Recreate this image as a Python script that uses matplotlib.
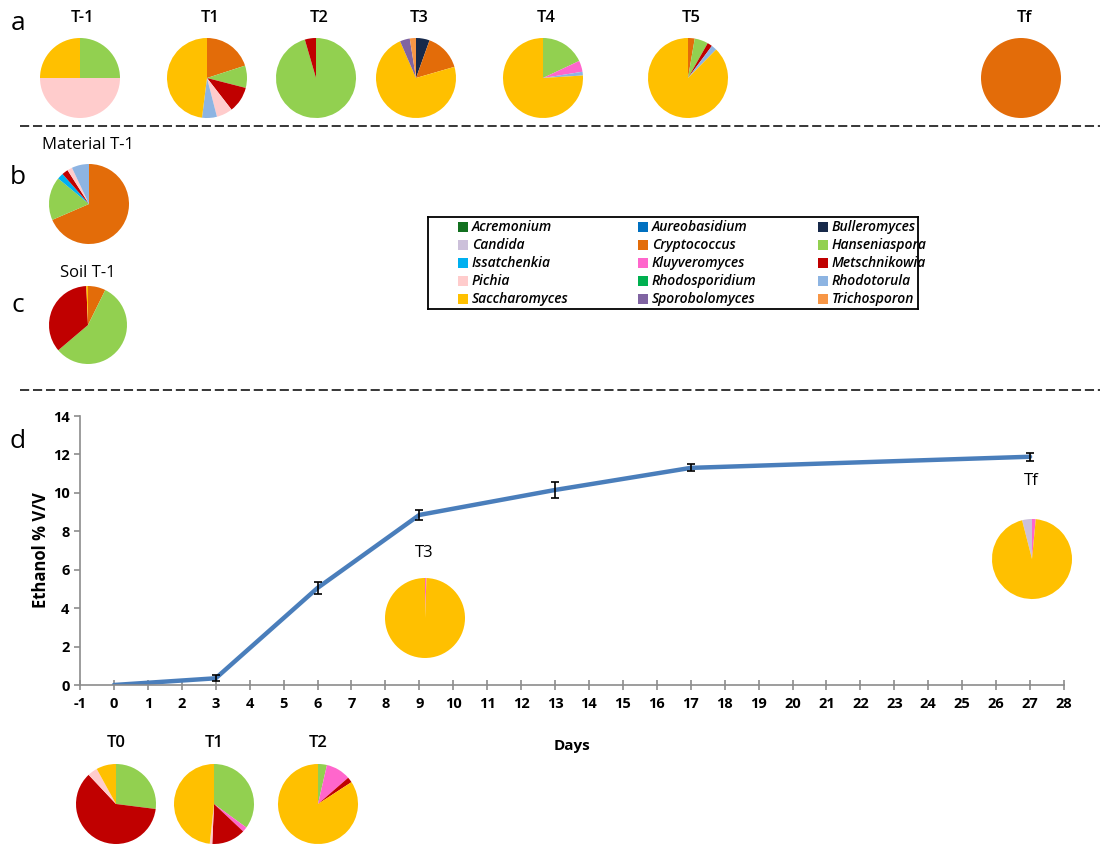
import matplotlib
matplotlib.use("Agg")
import matplotlib.pyplot as plt
from matplotlib.lines import Line2D

plt.rcParams['font.family'] = ['Open Sans', 'DejaVu Sans']
plt.rcParams['axes.unicode_minus'] = False

# ---------- data ----------
genera = ["Acremonium", "Aureobasidium", "Bulleromyces", "Candida", "Cryptococcus",
          "Hanseniaspora", "Issatchenkia", "Kluyveromyces", "Metschnikowia", "Pichia",
          "Rhodosporidium", "Rhodotorula", "Saccharomyces", "Sporobolomyces", "Trichosporon"]
genus_colors = ["#12701f", "#0070c0", "#17294a", "#ccc0da", "#e36c09",
                "#92d050", "#00b0f0", "#ff66cc", "#c00000", "#ffcccc",
                "#00b050", "#8db4e2", "#ffc000", "#8064a2", "#f79646"]

# panel a (percent of isolates)
a_tm1 = {"Hanseniaspora": 25, "Pichia": 50, "Saccharomyces": 25}
a_t1 = {"Cryptococcus": 20, "Hanseniaspora": 9, "Metschnikowia": 10.5, "Pichia": 6.5,
        "Rhodotorula": 6, "Saccharomyces": 48}
a_t2 = {"Hanseniaspora": 95.5, "Metschnikowia": 4.5}
a_t3 = {"Bulleromyces": 5.5, "Cryptococcus": 15, "Saccharomyces": 73, "Sporobolomyces": 4,
        "Trichosporon": 2.5}
a_t4 = {"Hanseniaspora": 18, "Kluyveromyces": 4.5, "Rhodotorula": 1.5, "Saccharomyces": 76}
a_t5 = {"Cryptococcus": 2.7, "Hanseniaspora": 5.5, "Metschnikowia": 2, "Rhodotorula": 2.2,
        "Saccharomyces": 87.6}
a_tf = {"Cryptococcus": 100}
a_labels = ["T-1", "T1", "T2", "T3", "T4", "T5", "Tf"]

# panels b and c
material_tm1 = {"Cryptococcus": 68.5, "Hanseniaspora": 17.5, "Issatchenkia": 2.5,
                "Metschnikowia": 2.5, "Pichia": 2, "Rhodotorula": 7}
soil_tm1 = {"Cryptococcus": 7.3, "Hanseniaspora": 56.5, "Metschnikowia": 35.5, "Saccharomyces": 0.7}

# panel d
days = [0, 3, 6, 9, 13, 17, 27]
ethanol = [0, 0.35, 5.05, 8.85, 10.15, 11.3, 11.88]
ethanol_err = [0, 0.15, 0.3, 0.28, 0.4, 0.18, 0.2]
d_t3 = {"Kluyveromyces": 0.6, "Saccharomyces": 99.4}
d_tf = {"Candida": 4, "Kluyveromyces": 1.5, "Saccharomyces": 94.5}
d_t0 = {"Hanseniaspora": 27, "Metschnikowia": 61, "Pichia": 4, "Saccharomyces": 8}
d_t1 = {"Hanseniaspora": 35, "Kluyveromyces": 2, "Metschnikowia": 13.7, "Pichia": 1,
        "Saccharomyces": 48.3}
d_t2 = {"Hanseniaspora": 3.6, "Kluyveromyces": 10, "Metschnikowia": 2.2, "Saccharomyces": 84.2}

W, H = 1110, 846
fig = plt.figure(figsize=(W / 100, H / 100), dpi=100)


def px_axes(x0, y0, w, h):
    # axes from pixel box (top-left origin)
    return fig.add_axes([x0 / W, 1 - (y0 + h) / H, w / W, h / H])


def draw_pie(comp, cx, cy, r=40, start=90):
    vals = [comp.get(g, 0) for g in genera]
    ax = px_axes(cx - r, cy - r, 2 * r, 2 * r)
    ax.pie(vals, colors=genus_colors, startangle=start, counterclock=False,
           wedgeprops=dict(linewidth=0))
    ax.set_xlim(-1, 1)
    ax.set_ylim(-1, 1)
    return ax


def ftext(x, y, s, **kw):
    fig.text(x / W, 1 - y / H, s, ha='center', va='center', **kw)


# ---------- panel a ----------
a_pies = [a_tm1, a_t1, a_t2, a_t3, a_t4, a_t5, a_tf]
a_x = [80, 207, 316, 416, 543, 688, 1021]
for comp, lab, x in zip(a_pies, a_labels, a_x):
    draw_pie(comp, x, 78)
    ftext(x + 3, 18, lab, fontsize=12, fontweight='semibold')

# ---------- panels b, c ----------
draw_pie(material_tm1, 89, 204)
ftext(88, 145, "Material T-1", fontsize=12)
draw_pie(soil_tm1, 88, 325, r=39)
ftext(88, 273, "Soil T-1", fontsize=12)

for lab, y in [("a", 23), ("b", 178), ("c", 306), ("d", 441)]:
    ftext(18, y, lab, fontsize=19)

for y in [126, 390]:
    fig.add_artist(Line2D([20 / W, 1100 / W], [1 - y / H] * 2, color='black',
                          lw=1.1, linestyle=(0, (6, 2.5))))

# ---------- legend ----------
lax = px_axes(428, 217, 490, 92)
lax.set_xlim(0, 490)
lax.set_ylim(92, 0)
lax.set_xticks([])
lax.set_yticks([])
for s in lax.spines.values():
    s.set_linewidth(1.3)
    s.set_color('black')
for i, (g, c) in enumerate(zip(genera, genus_colors)):
    row, col = i // 3, i % 3
    lx = 35 + col * 180
    ly = 10 + row * 18
    lax.scatter([lx], [ly], marker='s', s=48, color=c, linewidths=0)
    lax.text(lx + 9, ly, g, fontsize=10, fontstyle='italic', fontweight='semibold',
             va='center', ha='left')

# ---------- panel d ----------
ax = fig.add_axes([80 / W, 1 - 685 / H, (1064 - 80) / W, (685 - 416) / H])
ax.plot(days, ethanol, color='#4a7ebb', lw=3.2, solid_capstyle='round', zorder=2)
ax.errorbar(days[1:], ethanol[1:], yerr=ethanol_err[1:], fmt='none', ecolor='black',
            elinewidth=1.2, capsize=3, capthick=1.2, zorder=3)
ax.set_xlim(-1, 28)
ax.set_ylim(0, 14)
ax.set_xticks(range(-1, 29))
ax.set_yticks(range(0, 15, 2))
for s in ['top', 'right']:
    ax.spines[s].set_visible(False)
for s in ['left', 'bottom']:
    ax.spines[s].set_color('#8c8c8c')
    ax.spines[s].set_linewidth(1.2)
ax.tick_params(axis='both', colors='#8c8c8c', length=4, width=1.2, labelsize=10.5,
               labelcolor='black')
ax.tick_params(axis='x', direction='inout', length=7, pad=5)
plt.setp(ax.get_xticklabels() + ax.get_yticklabels(), fontweight='bold')
ax.set_ylabel("Ethanol % V/V", fontsize=12, fontweight='bold', labelpad=2)
ax.set_xlabel("Days", fontsize=11, fontweight='bold', labelpad=20)

draw_pie(d_t3, 425, 618)
ftext(424, 553, "T3", fontsize=12)
draw_pie(d_tf, 1032, 559, start=90 + d_tf["Candida"] * 3.6)
ftext(1031, 481, "Tf", fontsize=12)

for comp, lab, x in zip([d_t0, d_t1, d_t2], ["T0", "T1", "T2"], [116, 214, 318]):
    draw_pie(comp, x, 804)
    ftext(x, 743, lab, fontsize=12, fontweight='semibold')

fig.savefig("out.png", dpi=100)
